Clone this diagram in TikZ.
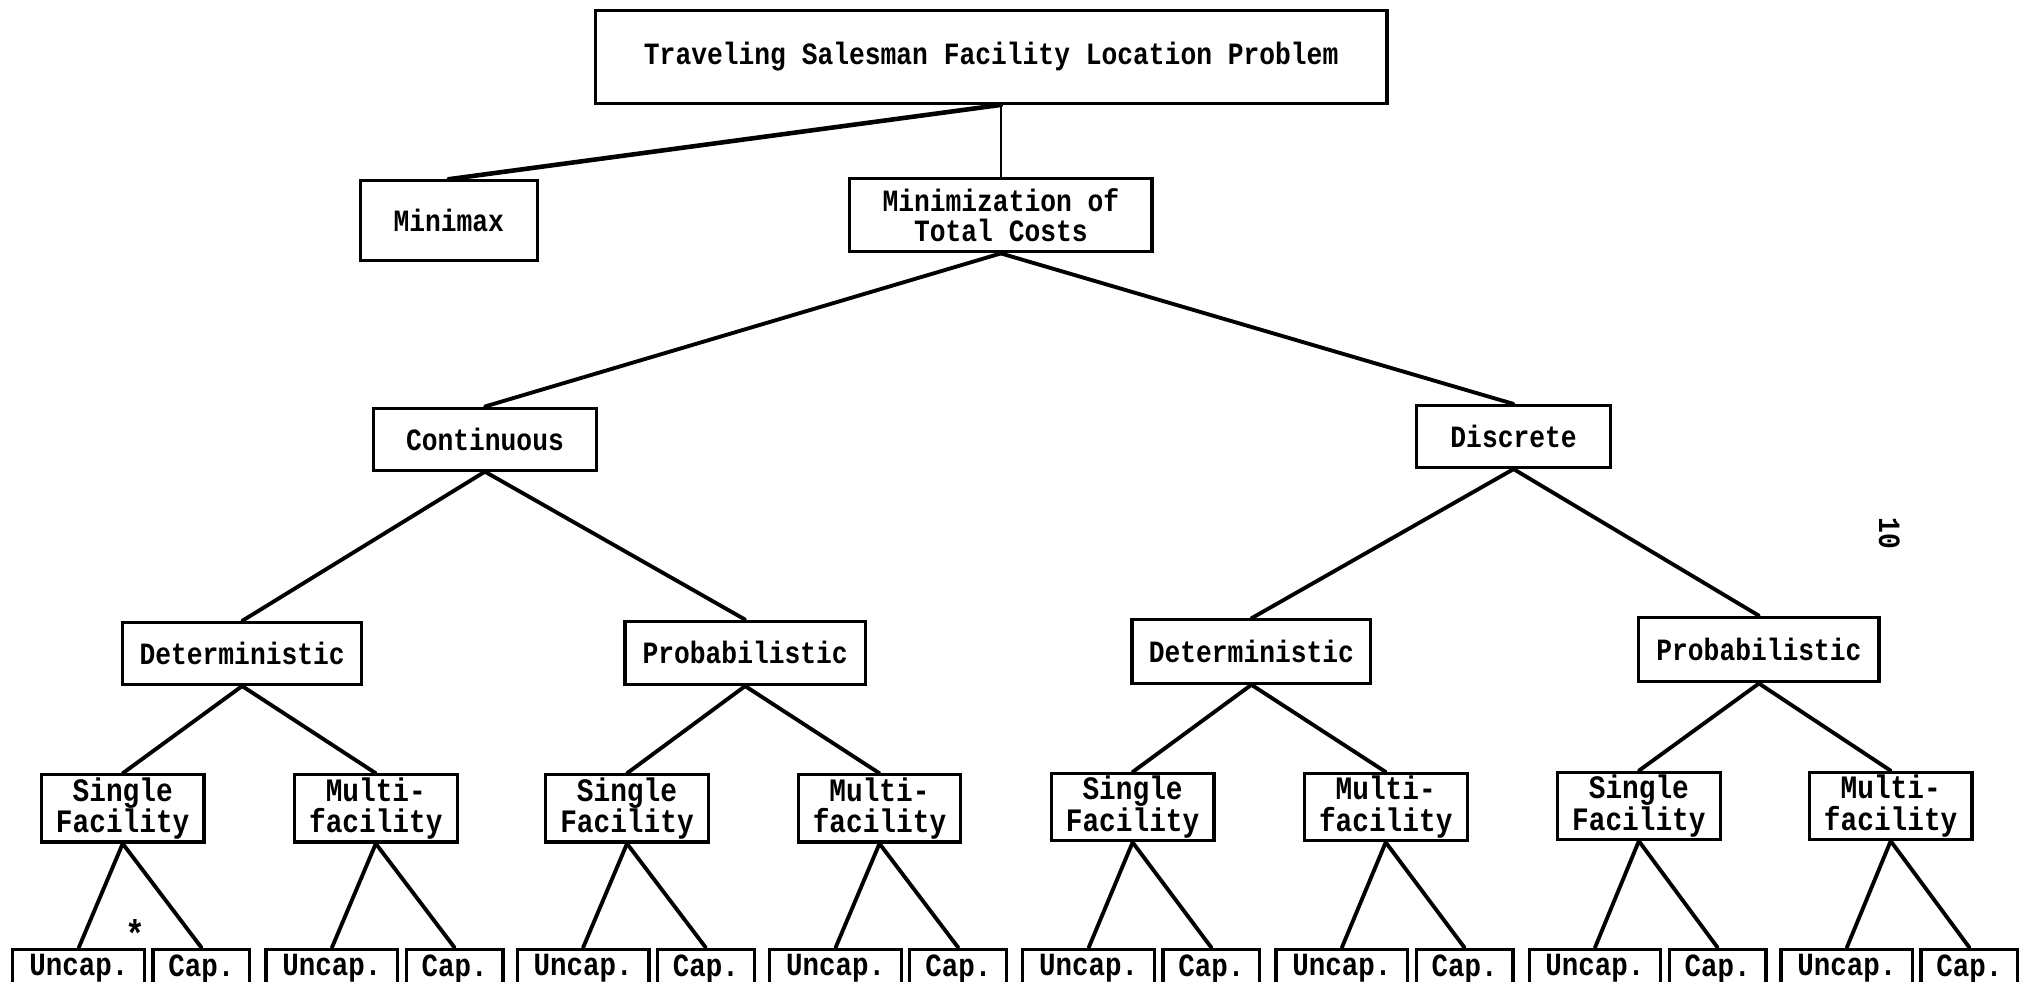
\documentclass[tikz,border=0pt]{standalone}
\usepackage{fontspec}
\setmainfont{Liberation Mono}[FakeStretch=0.85]
\newlength\pxu
\setlength\pxu{0.012915cm}
\begin{document}
\begin{tikzpicture}[x=0.012915cm, y=-0.012915cm,
  bx/.style 2 args={draw, line width=0.9pt, inner sep=0pt,
    minimum width=#1*\pxu, minimum height=#2*\pxu, align=center},
  tA/.style={font=\fontsize{8.8}{8.5}\selectfont\bfseries},
  tB/.style={font=\fontsize{9.3}{9}\selectfont\bfseries},
  tC/.style={font=\fontsize{9.2}{10}\selectfont\bfseries},
  conn/.style={line width=1.1pt, line cap=round}]
\useasboundingbox (0,0) rectangle (1568,760);
\clip (0,0) rectangle (1568,760);
\fill[white] (0,0) rectangle (1568,760);

\node[bx={613}{72}, tA] (top) at (767.5,44) {Traveling Salesman Facility Location Problem};
\node[bx={137}{62}, tA] (minimax) at (347.5,171) {Minimax};
\node[bx={234}{57}, tA] (mtc) at (775,166.5) {Minimization of\\Total Costs};
\node[bx={173}{48}, tA] (cont) at (375.5,340) {Continuous};
\node[bx={150}{48}, tA] (disc) at (1172,338) {Discrete};
\node[bx={185}{48}, tA] (detc) at (187.5,506) {Deterministic};
\node[bx={186}{49}, tA] (probc) at (577,505.5) {Probabilistic};
\node[bx={185}{49}, tA] (detd) at (969,504.5) {Deterministic};
\node[bx={186}{50}, tA] (probd) at (1362,503) {Probabilistic};

\foreach \n/\x/\y/\t in {s1/95/626/{Single\\Facility}, m1/291/626/{Multi-\\facility},
  s2/485.5/626/{Single\\Facility}, m2/681/626/{Multi-\\facility},
  s3/877/625/{Single\\Facility}, m3/1073/625/{Multi-\\facility},
  s4/1269/624/{Single\\Facility}, m4/1464/624/{Multi-\\facility}}{
  \node[bx={126}{52}, tB] (\n) at (\x,\y) {\t};
  \node[bx={102}{30}, tC] (\n u) at (\x-34,750) {Uncap.};
  \node[bx={75}{30}, tC] (\n c) at (\x+61,750) {Cap.};
  \draw[conn] (\n.south) -- (\n u.north);
  \draw[conn] (\n.south) -- (\n c.north);
}

\coordinate (tj) at (mtc.north |- top.south);
\draw[line width=0.6pt] (tj) -- (mtc.north);
\draw[line width=1.3pt, line cap=round] (tj) -- (minimax.north);
\draw[conn] (mtc.south) -- (cont.north);
\draw[conn] (mtc.south) -- (disc.north);
\draw[conn] (cont.south) -- (detc.north);
\draw[conn] (cont.south) -- (probc.north);
\draw[conn] (disc.south) -- (detd.north);
\draw[conn] (disc.south) -- (probd.north);
\draw[conn] (detc.south) -- (s1.north);
\draw[conn] (detc.south) -- (m1.north);
\draw[conn] (probc.south) -- (s2.north);
\draw[conn] (probc.south) -- (m2.north);
\draw[conn] (detd.south) -- (s3.north);
\draw[conn] (detd.south) -- (m3.north);
\draw[conn] (probd.south) -- (s4.north);
\draw[conn] (probd.south) -- (m4.north);

\node[font=\fontsize{11}{11}\selectfont\bfseries, inner sep=0pt] (star) at (104.5,723) {*};
\node[tA, rotate=-90, inner sep=0pt] (pg) at (1463,413) {10};
\end{tikzpicture}
\end{document}
